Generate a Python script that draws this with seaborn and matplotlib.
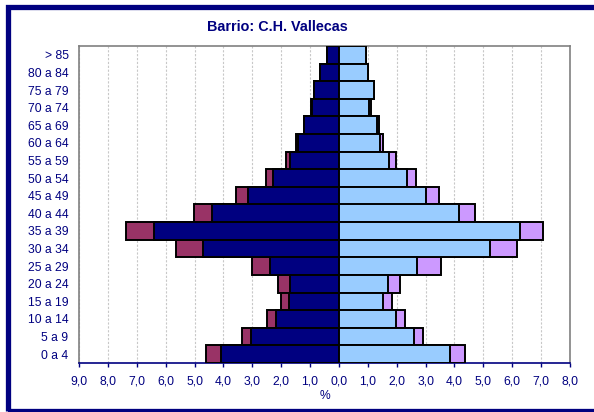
import matplotlib
matplotlib.use("Agg")
import matplotlib.pyplot as plt
import seaborn as sns
import numpy as np
from matplotlib.patches import Rectangle
from matplotlib.ticker import FixedLocator, FuncFormatter

# grupos de edad, de arriba a abajo
edades = ['> 85', '80 a 84', '75 a 79', '70 a 74', '65 a 69', '60 a 64',
          '55 a 59', '50 a 54', '45 a 49', '40 a 44', '35 a 39', '30 a 34',
          '25 a 29', '20 a 24', '15 a 19', '10 a 14', '5 a 9', '0 a 4']

# hombres (%): españoles y total con extranjeros
hombres_esp = [0.43, 0.64, 0.87, 0.93, 1.22, 1.41, 1.68, 2.29, 3.14, 4.38,
               6.42, 4.70, 2.37, 1.71, 1.73, 2.19, 3.03, 4.09]
hombres_tot = [0.43, 0.64, 0.87, 0.97, 1.22, 1.50, 1.85, 2.54, 3.56, 5.01,
               7.37, 5.64, 3.00, 2.10, 2.02, 2.50, 3.34, 4.61]

# mujeres (%): españolas y total con extranjeras
mujeres_esp = [0.93, 1.02, 1.22, 1.05, 1.33, 1.43, 1.75, 2.34, 3.03, 4.16,
               6.26, 5.22, 2.69, 1.69, 1.54, 1.98, 2.61, 3.86]
mujeres_tot = [0.93, 1.02, 1.22, 1.12, 1.39, 1.52, 1.98, 2.66, 3.47, 4.72,
               7.06, 6.17, 3.53, 2.12, 1.83, 2.27, 2.92, 4.38]

ticks_x = list(range(-9, 9))

NAVY = '#000080'
plt.rcParams['font.family'] = ['Liberation Sans', 'DejaVu Sans']

fig = plt.figure(figsize=(5.94, 4.12), dpi=100)
ax = fig.add_axes([79 / 594, 1 - 363 / 412, 491 / 594, 317 / 412])

capas = [
    (-np.array(hombres_tot), '#993366'),
    (-np.array(hombres_esp), NAVY),
    (np.array(mujeres_tot), '#CC99FF'),
    (np.array(mujeres_esp), '#99CCFF'),
]
for valores, color in capas:
    sns.barplot(x=valores, y=edades, order=edades, orient='h', color=color,
                saturation=1, width=1.0, edgecolor='black', linewidth=1.4,
                errorbar=None, ax=ax, zorder=3)

ax.set_xlim(-9, 8)
ax.set_ylim(len(edades) - 0.5, -0.5)
ax.xaxis.set_major_locator(FixedLocator(ticks_x))
ax.xaxis.set_major_formatter(FuncFormatter(lambda v, p: f"{abs(v):.1f}".replace('.', ',')))
ax.grid(axis='x', color='#c8c8c8', linestyle=(0, (2, 1.5)), linewidth=0.8, zorder=0)
ax.set_axisbelow(True)

for lado in ['left', 'top', 'right']:
    ax.spines[lado].set_color('#808080')
    ax.spines[lado].set_linewidth(1.2)
ax.spines['bottom'].set_color(NAVY)
ax.spines['bottom'].set_linewidth(1.2)

ax.tick_params(axis='x', colors=NAVY, labelsize=8.7, length=3, width=1, pad=6)
ax.tick_params(axis='y', colors=NAVY, labelsize=8.7, length=0, pad=7.5)
ax.set_xlabel('%', color=NAVY, fontsize=8.7, labelpad=2)
ax.set_ylabel('')

fig.text(277 / 594, 1 - 27 / 412, 'Barrio: C.H. Vallecas', ha='center', va='center',
         fontsize=10.4, fontweight='bold', color=NAVY)

# marco exterior
fig.patches.append(Rectangle((7.5 / 594, 1.5 / 412), 1.1, 404 / 412,
                             transform=fig.transFigure, fill=False,
                             edgecolor=NAVY, linewidth=3.8, zorder=0))

fig.savefig('out.png', dpi=100)
